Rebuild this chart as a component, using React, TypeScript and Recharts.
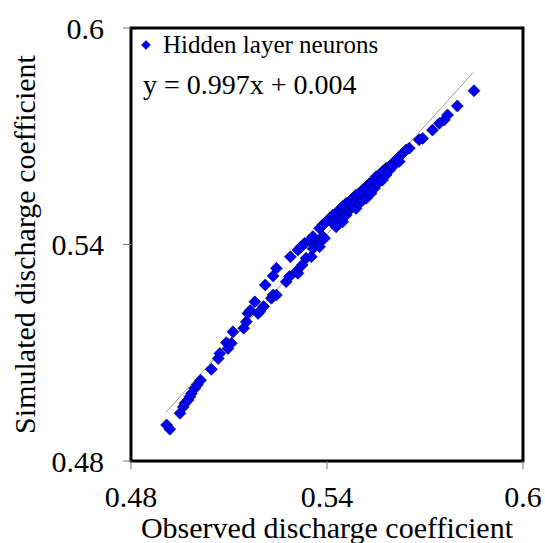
import {
  ScatterChart,
  Scatter,
  XAxis,
  YAxis,
  ReferenceLine,
  ReferenceArea,
  Legend,
} from "recharts";

const observed = [
  0.4909, 0.4919, 0.495, 0.496, 0.4965, 0.4975, 0.498, 0.4985, 0.4995, 0.5003,
  0.5013, 0.5046, 0.5067, 0.5072, 0.5092, 0.5097, 0.5107, 0.5112, 0.5145, 0.5153,
  0.5158, 0.5165, 0.5179, 0.5189, 0.5194, 0.5206, 0.5211, 0.523, 0.5235, 0.5245,
  0.5235, 0.5245, 0.5275, 0.5285, 0.5306, 0.5311, 0.5288, 0.5311, 0.5321, 0.5331,
  0.5347, 0.5357, 0.5324, 0.5336, 0.5352, 0.5357, 0.5372, 0.5377, 0.5382, 0.5387,
  0.5392, 0.5377, 0.5387, 0.5397, 0.5408, 0.5418, 0.5428, 0.5438, 0.5448, 0.5459,
  0.5469, 0.5479, 0.5489, 0.5499, 0.5509, 0.552, 0.553, 0.554, 0.555, 0.556,
  0.557, 0.5581, 0.5591, 0.5601, 0.5611, 0.5621, 0.5632, 0.5642, 0.5652, 0.5418,
  0.5428, 0.5438, 0.5448, 0.5459, 0.5469, 0.5479, 0.5489, 0.5499, 0.5509, 0.552,
  0.5535, 0.5545, 0.5555, 0.557, 0.5581, 0.5591, 0.5601, 0.5621, 0.5682, 0.5693,
  0.5723, 0.5744, 0.5759, 0.5769, 0.5799, 0.585,
];

const simulated = [
  0.49, 0.4888, 0.4932, 0.495, 0.496, 0.4969, 0.4978, 0.4987, 0.5001, 0.5011,
  0.5024, 0.5054, 0.5084, 0.5098, 0.5128, 0.5112, 0.5126, 0.5158, 0.5168, 0.5186,
  0.5209, 0.5217, 0.5241, 0.5209, 0.5214, 0.5228, 0.5288, 0.5251, 0.526, 0.526,
  0.5313, 0.5334, 0.5297, 0.5311, 0.5325, 0.532, 0.5366, 0.5385, 0.5394, 0.5403,
  0.5412, 0.5422, 0.5343, 0.5362, 0.5366, 0.5389, 0.5403, 0.5394, 0.5412, 0.5422,
  0.5417, 0.5445, 0.5454, 0.5463, 0.5472, 0.5482, 0.5486, 0.5496, 0.5505, 0.5514,
  0.5519, 0.5528, 0.5537, 0.5542, 0.5551, 0.556, 0.5569, 0.5574, 0.5588, 0.5593,
  0.5602, 0.5611, 0.5616, 0.5625, 0.5634, 0.5643, 0.5653, 0.5662, 0.5667, 0.5459,
  0.5449, 0.5468, 0.5463, 0.5482, 0.5496, 0.5505, 0.55, 0.5514, 0.5523, 0.5528,
  0.5542, 0.5556, 0.5569, 0.5579, 0.5593, 0.5606, 0.5616, 0.563, 0.569, 0.5694,
  0.5717, 0.5736, 0.5745, 0.5759, 0.5784, 0.5826,
];

// trend line end points
const trendX = [0.4907, 0.5848];
const trendY = [0.4935, 0.5877];

const ticks = [0.48, 0.54, 0.6];
const seriesName = "Hidden layer neurons";
const equation = "y = 0.997x + 0.004";

const data = observed.map((x, i) => ({ x, y: simulated[i] }));

const FONT = '"Liberation Serif", "Times New Roman", serif';

const Diamond = (props: any) => {
  const { cx, cy } = props;
  const r = 6;
  return (
    <polygon
      points={`${cx},${cy - r} ${cx + r},${cy} ${cx},${cy + r} ${cx - r},${cy}`}
      fill="#0000ff"
      stroke="#00003a"
      strokeWidth={0.6}
    />
  );
};

const LegendBox = () => (
  <div style={{ fontFamily: FONT, color: "#000" }}>
    <div style={{ display: "flex", alignItems: "center", fontSize: 25, lineHeight: "28px" }}>
      <svg width={10} height={10} style={{ marginRight: 12 }}>
        <polygon points="5,0.5 9.5,5 5,9.5 0.5,5" fill="#0000ff" stroke="#00003a" strokeWidth={0.5} />
      </svg>
      {seriesName}
    </div>
    <div style={{ fontSize: 28, lineHeight: "32px", marginTop: 10, marginLeft: 2 }}>{equation}</div>
  </div>
);

export default function App() {
  return (
    <div style={{ position: "absolute", left: 0, top: 0, background: "#fff" }}>
      <ScatterChart
        width={545}
        height={543}
        margin={{ top: 28, right: 22, left: 0, bottom: 0 }}
      >
        <XAxis
          type="number"
          dataKey="x"
          domain={[0.48, 0.6]}
          ticks={ticks}
          axisLine={false}
          tickLine={{ stroke: "#777" }}
          tickSize={8}
          tickMargin={17}
          height={82}
          tick={{ fill: "#000", fontSize: 30, fontFamily: FONT }}
          interval={0}
          label={{
            value: "Observed discharge coefficient",
            position: "insideBottom",
            offset: 5,
            fill: "#000",
            fontSize: 30,
            fontFamily: FONT,
          }}
        />
        <YAxis
          type="number"
          dataKey="y"
          domain={[0.48, 0.6]}
          ticks={ticks}
          axisLine={false}
          tickLine={{ stroke: "#777" }}
          tickSize={8}
          tickMargin={19}
          width={131}
          tick={{ fill: "#000", fontSize: 30, fontFamily: FONT }}
          interval={0}
          label={{
            value: "Simulated discharge coefficient",
            angle: -90,
            position: "insideLeft",
            offset: 24,
            fill: "#000",
            fontSize: 30,
            fontFamily: FONT,
            style: { textAnchor: "middle" },
          }}
        />
        <ReferenceArea
          x1={0.48}
          x2={0.6}
          y1={0.48}
          y2={0.6}
          fill="none"
          stroke="#000"
          strokeWidth={3}
        />
        <ReferenceLine
          segment={[
            { x: trendX[0], y: trendY[0] },
            { x: trendX[1], y: trendY[1] },
          ]}
          stroke="#999"
          strokeWidth={1}
        />
        <Scatter
          name={seriesName}
          data={data}
          shape={<Diamond />}
          isAnimationActive={false}
        />
        <Legend
          layout="vertical"
          align="center"
          verticalAlign="middle"
          content={<LegendBox />}
          wrapperStyle={{ left: 141, top: 31, width: "auto" }}
        />
      </ScatterChart>
    </div>
  );
}
